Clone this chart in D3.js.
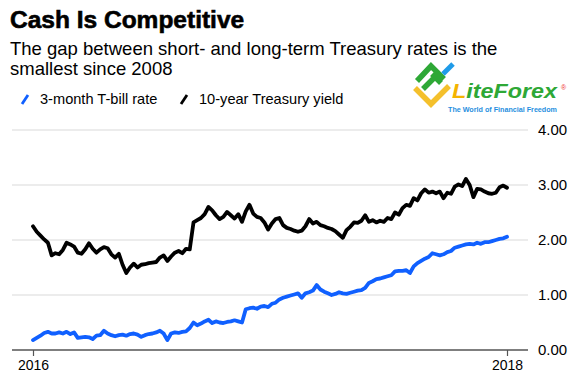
<!DOCTYPE html>
<html>
<head>
<meta charset="utf-8">
<script src="https://cdn.jsdelivr.net/npm/d3@7"></script>
<style>
  html, body { margin: 0; padding: 0; background: #fff; }
  svg { display: block; font-family: "Liberation Sans", Arial, Helvetica, sans-serif; }
</style>
</head>
<body>
<svg id="chart" width="588" height="377"></svg>
<script>
// ---- Data (weekly readings, first week 2016-01-04) ----
const startDate = "2016-01-04";
const seriesNames = ["3-month T-bill rate", "10-year Treasury yield"];
const seriesColors = ["#1060ff", "#000000"];

const tBill = [
  0.18,0.22,0.26,0.31,0.33,0.30,0.30,0.32,0.30,0.33,
  0.29,0.32,0.22,0.23,0.24,0.23,0.20,0.26,0.27,0.35,
  0.30,0.27,0.25,0.27,0.28,0.26,0.29,0.30,0.28,0.24,
  0.27,0.29,0.30,0.32,0.35,0.30,0.18,0.30,0.32,0.31,
  0.33,0.34,0.40,0.50,0.45,0.48,0.52,0.55,0.49,0.52,
  0.50,0.49,0.51,0.52,0.54,0.52,0.50,0.74,0.76,0.77,
  0.75,0.79,0.80,0.78,0.84,0.86,0.92,0.95,0.97,0.99,
  1.01,1.03,0.95,1.03,1.05,1.08,1.18,1.10,1.06,1.03,
  1.00,1.02,1.05,1.03,1.02,1.04,1.06,1.08,1.09,1.13,
  1.22,1.25,1.29,1.30,1.32,1.34,1.36,1.43,1.44,1.44,
  1.45,1.40,1.52,1.58,1.62,1.66,1.69,1.76,1.74,1.72,
  1.74,1.78,1.80,1.86,1.88,1.90,1.92,1.93,1.92,1.95,
  1.93,1.96,1.96,1.98,2.00,2.02,2.03,2.06
];

const tenYear = [
  2.25,2.15,2.08,2.01,1.95,1.72,1.76,1.74,1.82,1.95,
  1.92,1.88,1.77,1.75,1.83,1.94,1.84,1.77,1.83,1.87,
  1.85,1.74,1.68,1.75,1.55,1.40,1.50,1.57,1.50,1.55,
  1.56,1.58,1.59,1.60,1.68,1.72,1.62,1.70,1.77,1.80,
  1.76,1.84,1.83,2.32,2.36,2.40,2.47,2.60,2.54,2.45,
  2.38,2.42,2.51,2.45,2.39,2.47,2.33,2.52,2.64,2.48,
  2.42,2.40,2.32,2.19,2.30,2.38,2.40,2.27,2.22,2.20,
  2.17,2.15,2.17,2.25,2.38,2.30,2.33,2.27,2.25,2.22,
  2.20,2.16,2.10,2.04,2.18,2.24,2.32,2.31,2.35,2.45,
  2.33,2.36,2.32,2.35,2.33,2.40,2.38,2.50,2.46,2.58,
  2.64,2.62,2.76,2.72,2.85,2.92,2.86,2.88,2.85,2.88,
  2.76,2.86,2.84,2.97,3.01,2.98,3.11,3.00,2.78,2.93,
  2.92,2.88,2.85,2.84,2.86,2.96,2.99,2.95
];

const yTicks = [0, 1, 2, 3, 4];
const xTickLabels = ["2016", "2018"];

// ---- Chart ----
const svg = d3.select("#chart");
const plot = { left: 12, right: 528, top: 130, bottom: 350 };

const parse = d3.timeParse("%Y-%m-%d");
const start = parse(startDate);
const dates = tenYear.map((_, i) => d3.timeWeek.offset(start, i));
const end = dates[dates.length - 1];

const x = d3.scaleTime().domain([start, end]).range([33, 507]);
const y = d3.scaleLinear().domain([0, 4]).range([plot.bottom, plot.top]);

// Title & subtitle
svg.append("text").attr("x", 10).attr("y", 28)
  .attr("font-size", 24.5).attr("font-weight", "bold").attr("fill", "#000")
  .attr("stroke", "#000").attr("stroke-width", 0.6)
  .text("Cash Is Competitive");
svg.append("text").attr("x", 10).attr("y", 55)
  .attr("font-size", 18.5).attr("fill", "#000")
  .text("The gap between short- and long-term Treasury rates is the");
svg.append("text").attr("x", 10).attr("y", 75)
  .attr("font-size", 18.5).attr("fill", "#000")
  .text("smallest since 2008");

// Legend
const legend = svg.append("g");
const legendX = [22, 181];
seriesNames.forEach((name, i) => {
  const g = legend.append("g").attr("transform", `translate(${legendX[i]},0)`);
  g.append("line").attr("x1", 0).attr("y1", 104).attr("x2", 6).attr("y2", 95)
    .attr("stroke", seriesColors[i]).attr("stroke-width", 2.8).attr("stroke-linecap", "butt");
  g.append("text").attr("x", 18).attr("y", 104)
    .attr("font-size", 14.6).attr("fill", "#000").text(name);
});

// Logo (LiteForex)
const logo = svg.append("g");
logo.append("path").attr("d", "M415,88 L431,104 L449,86")
  .attr("fill", "none").attr("stroke", "#f4c02c").attr("stroke-width", 5.5).attr("stroke-linejoin", "miter");
logo.append("path").attr("d", "M417,81 L431,66 L444,79 M423,89 L438,74 M432,74 L441,83")
  .attr("fill", "none").attr("stroke", "#2ea836").attr("stroke-width", 5.5).attr("stroke-linejoin", "miter");
logo.append("path").attr("d", "M443,74 L453,64")
  .attr("fill", "none").attr("stroke", "#1f9be8").attr("stroke-width", 5);
const lt = logo.append("text").attr("x", 452).attr("y", 98)
  .attr("font-size", 20).attr("font-weight", "bold").attr("font-style", "italic")
  .attr("textLength", 105).attr("lengthAdjust", "spacingAndGlyphs");
lt.append("tspan").attr("fill", "#f4b400").text("L");
lt.append("tspan").attr("fill", "#2ea836").text("iteForex");
logo.append("text").attr("x", 561).attr("y", 90).attr("font-size", 7).attr("fill", "#e33").text("®");
logo.append("text").attr("x", 448).attr("y", 112).attr("font-size", 7.5).attr("font-weight", "bold")
  .attr("fill", "#1f8fe0").attr("textLength", 109).attr("lengthAdjust", "spacingAndGlyphs")
  .text("The World of Financial Freedom");

// Gridlines
svg.append("g").selectAll("line").data(yTicks.filter(d => d > 0)).join("line")
  .attr("x1", plot.left).attr("x2", plot.right)
  .attr("y1", d => y(d)).attr("y2", d => y(d))
  .attr("stroke", "#e6e6e6").attr("stroke-width", 1.5);

// Y axis labels (right)
const yAxis = svg.append("g").attr("transform", `translate(${plot.right},0)`)
  .call(d3.axisRight(y).tickValues(yTicks).tickFormat(d3.format(".2f")).tickSize(0).tickPadding(10));
yAxis.select(".domain").remove();
yAxis.selectAll("text").attr("font-size", 15).attr("fill", "#000")
  .attr("font-family", "'Liberation Sans', Arial, sans-serif");

// Lines
const line = d3.line().x((d, i) => x(dates[i])).y(d => y(d));
[tBill, tenYear].forEach((vals, i) => {
  svg.append("path").datum(vals)
    .attr("d", line)
    .attr("fill", "none")
    .attr("stroke", seriesColors[i])
    .attr("stroke-width", 3.8)
    .attr("stroke-linejoin", "round")
    .attr("stroke-linecap", "round");
});

// X axis
svg.append("line").attr("x1", plot.left).attr("x2", plot.right)
  .attr("y1", plot.bottom).attr("y2", plot.bottom)
  .attr("stroke", "#555").attr("stroke-width", 1.5);
const xAxis = svg.append("g").attr("transform", `translate(0,${plot.bottom})`)
  .call(d3.axisBottom(x).tickValues([start, end])
    .tickFormat((d, i) => xTickLabels[i]).tickSize(6).tickPadding(4));
xAxis.select(".domain").remove();
xAxis.selectAll(".tick line").attr("stroke", "#555").attr("stroke-width", 1.2);
xAxis.selectAll("text").attr("font-size", 14).attr("fill", "#000")
  .attr("font-family", "'Liberation Sans', Arial, sans-serif");
</script>
</body>
</html>
